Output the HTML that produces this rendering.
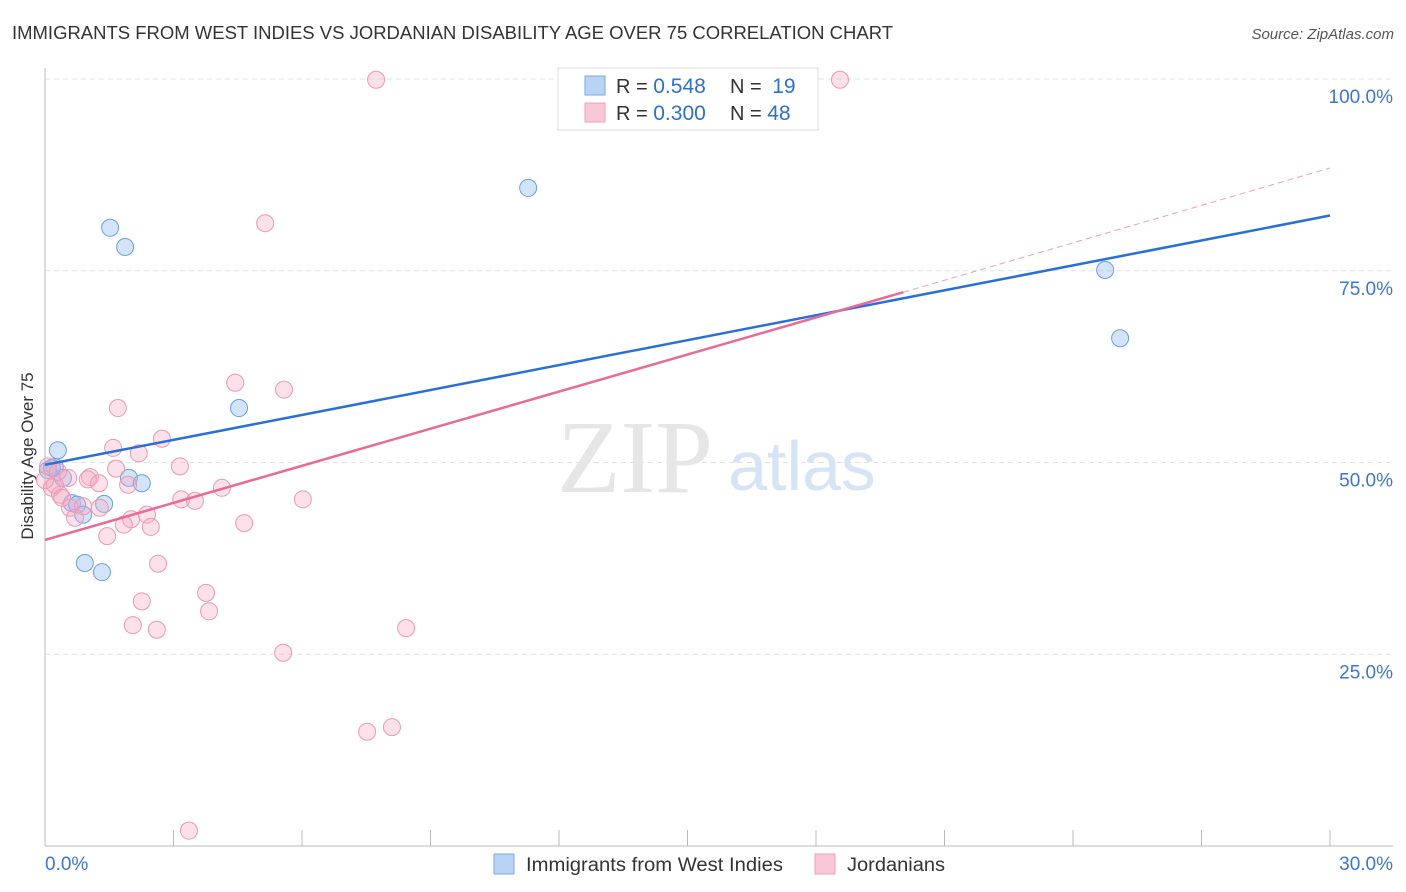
<!DOCTYPE html>
<html><head><meta charset="utf-8"><style>
body{margin:0;width:1406px;height:892px;background:#fff;overflow:hidden;font-family:"Liberation Sans",sans-serif}
svg{position:absolute;left:0;top:0}
</style></head><body>
<svg id="chart" width="1406" height="892">
<text x="12" y="39" font-size="18" fill="#333" textLength="881" lengthAdjust="spacingAndGlyphs">IMMIGRANTS FROM WEST INDIES VS JORDANIAN DISABILITY AGE OVER 75 CORRELATION CHART</text>
<text x="1394" y="39" font-size="15" fill="#555" font-style="italic" text-anchor="end">Source: ZipAtlas.com</text>
<text x="33" y="456" font-size="17" fill="#333" text-anchor="middle" transform="rotate(-90 33 456)">Disability Age Over 75</text>
<g id="grid"></g>
<text x="635" y="492" font-size="104" fill="#e6e6e6" font-family="Liberation Serif,serif" text-anchor="middle">ZIP</text>
<text x="802" y="490" font-size="70" fill="#d6e4f5" text-anchor="middle">atlas</text>
<g id="marks"></g>
<g>
<rect x="558" y="68" width="260" height="62" fill="#fff" stroke="#ddd"/>
<rect x="585" y="76" width="20" height="19" fill="#b8d3f3" stroke="#7aa9e6"/>
<rect x="585" y="103" width="20" height="19" fill="#f9c8d6" stroke="#eea0b8"/>
<text x="616" y="93" font-size="20" fill="#333">R = <tspan fill="#2e6fd0" font-size="21">0.548</tspan></text>
<text x="730" y="93" font-size="20" fill="#333">N = <tspan fill="#2e6fd0" dx="5" font-size="21">19</tspan></text>
<text x="616" y="120" font-size="20" fill="#333">R = <tspan fill="#2e6fd0" font-size="21">0.300</tspan></text>
<text x="730" y="120" font-size="20" fill="#333">N = <tspan fill="#2e6fd0" font-size="21">48</tspan></text>
</g>
<g>
<rect x="494" y="854" width="20" height="20" fill="#b8d3f3" stroke="#7aa9e6"/>
<text x="526" y="871" font-size="19" fill="#333" textLength="257" lengthAdjust="spacingAndGlyphs">Immigrants from West Indies</text>
<rect x="815" y="854" width="20" height="20" fill="#f9c8d6" stroke="#eea0b8"/>
<text x="847" y="871" font-size="19" fill="#333" textLength="98" lengthAdjust="spacingAndGlyphs">Jordanians</text>
</g>
</svg>
<script>
const blueX=[0.23,0.30,0.42,0.63,0.75,0.89,1.38,0.93,1.33,1.96,2.26,4.53,1.52,1.87,11.28,24.75,25.10,0.07,0.16];
const blueY=[49.4,51.6,48.0,44.7,44.5,43.2,44.6,36.9,35.7,48.0,47.3,57.1,80.6,78.1,85.8,75.1,66.2,49.0,49.3];
const pinkX=[7.73,18.56,5.14,4.44,5.58,1.70,2.73,1.59,2.19,3.15,1.66,1.05,1.00,0.54,0.16,0.35,4.13,1.94,1.26,3.18,3.50,6.02,0.58,0.89,1.28,0.70,2.01,2.38,1.84,2.47,4.65,1.45,2.64,2.26,3.76,3.83,2.05,2.61,8.43,5.56,7.52,8.10,3.36,0.23,0.40,0.0,0.07,0.30];
const pinkY=[99.9,99.9,81.2,60.4,59.5,57.1,53.1,51.9,51.2,49.5,49.2,48.1,47.8,48.0,46.7,45.8,46.7,47.1,47.3,45.2,45.0,45.2,44.1,44.3,44.1,42.8,42.6,43.2,41.9,41.6,42.1,40.4,36.8,31.9,33.0,30.6,28.8,28.2,28.4,25.2,14.9,15.5,2.0,47.1,45.4,47.7,49.5,48.8];
const blueTrend=[49.7,82.2];
const pinkTrend=[39.9,72.2,88.4];
const pinkSolidEnd=20.04;
const yTicks=[25,50,75,100];
const yTickLabels=["25.0%","50.0%","75.0%","100.0%"];
const xTickLabels=["0.0%","30.0%"];
const NS="http://www.w3.org/2000/svg";
const sx=v=>45+v/30*1285;
const sy=v=>846-v/100*767;
function mk(tag,attrs,parent){const e=document.createElementNS(NS,tag);for(const k in attrs)e.setAttribute(k,attrs[k]);parent.appendChild(e);return e;}
const grid=document.getElementById('grid'),marks=document.getElementById('marks');
yTicks.forEach((t,i)=>{
 const l=mk('line',{x1:45,x2:1393,y1:sy(t),y2:sy(t),stroke:'#e2e2e2','stroke-dasharray':'5,4'},grid);
 
 
 const tx=mk('text',{x:1393,y:sy(t)+24,'font-size':19,fill:'#3a76d2','text-anchor':'end'},grid);
 tx.textContent=yTickLabels[i];
 
 
});
const ax=mk('line',{x1:45,x2:45,y1:68,y2:846,stroke:'#bbb'},grid);


const bx=mk('line',{x1:45,x2:1393,y1:846,y2:846,stroke:'#bbb'},grid);


for(let i=0;i<=10;i++){
 const t=mk('line',{x1:sx(i*3),x2:sx(i*3),y1:830,y2:846,stroke:'#bbb'},grid);
 
 
}
[[0,'start',45],[30,'end',1393]].forEach((d,i)=>{
 const tx=mk('text',{x:d[2],y:870,'font-size':19,fill:'#3a76d2','text-anchor':d[1]},grid);
 tx.textContent=xTickLabels[i];
 
 
});
blueX.forEach((x,i)=>{
 const c=mk('circle',{cx:sx(x),cy:sy(blueY[i]),r:8.5,fill:'rgba(160,196,240,0.45)',stroke:'#6a9fe0','stroke-width':1},marks);
 
 
});
pinkX.forEach((x,i)=>{
 const c=mk('circle',{cx:sx(x),cy:sy(pinkY[i]),r:8.5,fill:'rgba(245,170,195,0.35)',stroke:'#eb98b5','stroke-width':1},marks);
 
 
});
const bl=mk('line',{x1:sx(0),y1:sy(blueTrend[0]),x2:sx(30),y2:sy(blueTrend[1]),stroke:'#2a6fd6','stroke-width':2.5},marks);


const pl=mk('line',{x1:sx(0),y1:sy(pinkTrend[0]),x2:sx(pinkSolidEnd),y2:sy(pinkTrend[1]),stroke:'#e86a98','stroke-width':2.5},marks);


const pd=mk('line',{x1:sx(pinkSolidEnd),y1:sy(pinkTrend[1]),x2:sx(30),y2:sy(pinkTrend[2]),stroke:'#eea0b8','stroke-width':1,'stroke-dasharray':'6,4'},marks);


</script>
</body></html>
